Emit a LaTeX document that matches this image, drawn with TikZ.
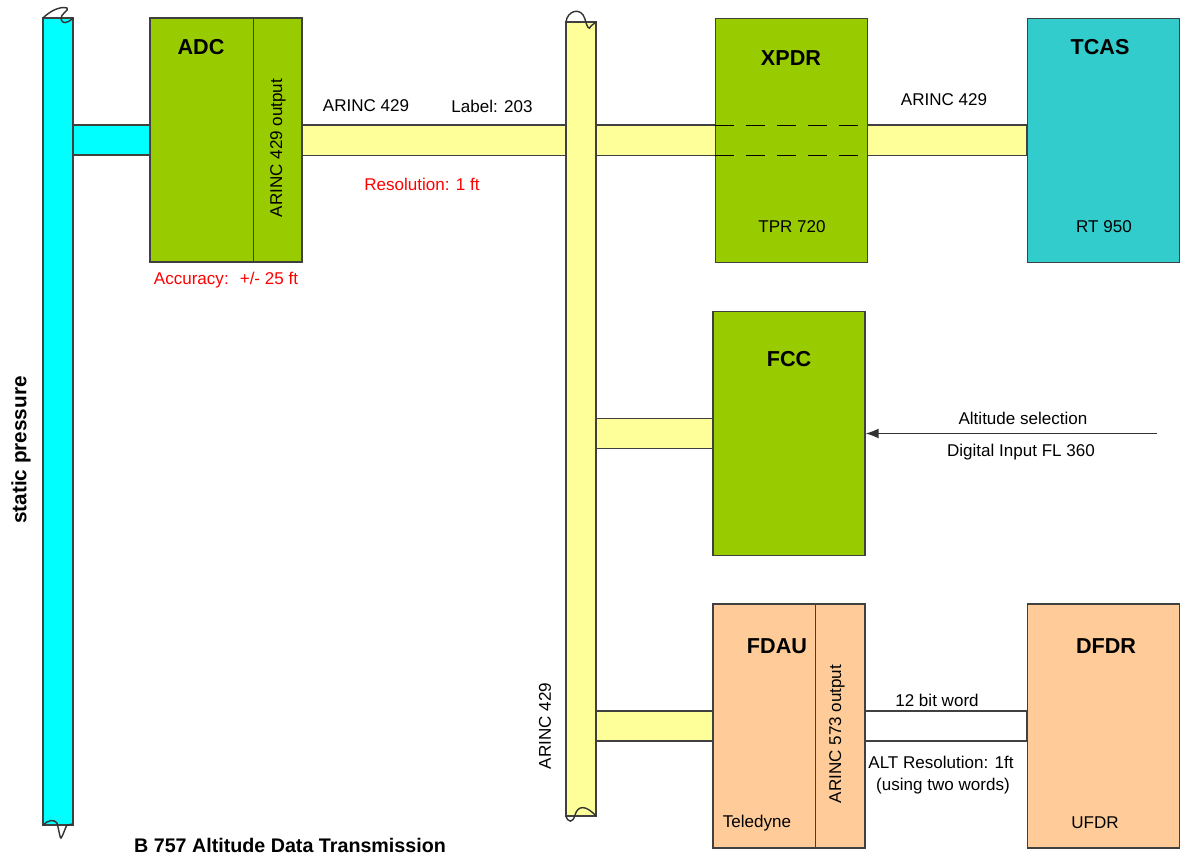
\documentclass[tikz,border=0pt]{standalone}
\usepackage{fontspec}
\setmainfont{Liberation Sans}
\usetikzlibrary{arrows,arrows.meta,calc}
\pgfdeclarelayer{background}
\pgfsetlayers{background,main}
\definecolor{unitgreen}{HTML}{99CC00}
\definecolor{unitteal}{HTML}{33CCCC}
\definecolor{unitorange}{HTML}{FFCC99}
\definecolor{buscyan}{HTML}{00FFFF}
\definecolor{busyellow}{HTML}{FFFF99}
\begin{document}
\begin{tikzpicture}[x=0.02cm, y=-0.02cm,
  edge/.style={draw=black!75, line width=0.7pt},
  unit/.style={edge, minimum width=3.04cm, minimum height=4.88cm, inner sep=0pt},
  bus/.style={edge, minimum width=0.6cm, inner sep=0pt},
  wave/.style={draw=black!80, line width=0.8pt},
  head/.style={font=\bfseries\fontsize{12.3}{14}\selectfont, inner sep=0pt},
  txt/.style={font=\fontsize{9.7}{11}\selectfont, inner sep=0pt},
  note/.style={txt, text=red}]
\useasboundingbox (0,0) rectangle (1187,861);

% buses
\node[bus, fill=buscyan, minimum height=16.14cm] (sbar) at (58,421.5) {};
\node[bus, fill=busyellow, minimum height=15.88cm] (ybar) at (581,419) {};
\draw[wave] (43,18) .. controls (50,11) and (60,6) .. (67,8) .. controls (70,10) and (60,14) .. (61,19) .. controls (62,24) and (67,24) .. (73,18);
\draw[wave] (43,825) .. controls (48,820) and (54,819) .. (57,823) .. controls (59,830) and (60,839) .. (61,838) .. controls (63,836) and (65,828) .. (67,825) -- (73,824);
\draw[wave] (566,22) .. controls (567,11) and (581,6) .. (585,19) .. controls (587,27) and (589,31) .. (591,26) -- (596,22);
\draw[wave] (566,816) .. controls (568,823) and (573,823) .. (575,815) .. controls (578,805) and (586,805) .. (596,816);

% units
\node[unit, fill=unitgreen] (adc) at (226,140) {};
\node[unit, fill=unitgreen] (xpdr) at (791.5,140.5) {};
\node[unit, fill=unitteal] (tcas) at (1103.5,140.5) {};
\node[unit, fill=unitgreen] (fcc) at (789,433.5) {};
\node[unit, fill=unitorange] (fdau) at (789,726) {};
\node[unit, fill=unitorange] (dfdr) at (1103.5,726) {};
\draw[edge] ($(adc.north east)+(-49,0)$) -- ($(adc.south east)+(-49,0)$);
\draw[edge] ($(fdau.north east)+(-50,0)$) -- ($(fdau.south east)+(-50,0)$);

% links
\begin{pgfonlayer}{background}
\filldraw[edge, fill=buscyan] ($(sbar.center |- adc.west)+(0,-15)$) rectangle ($(adc.west)+(0,15)$);
\filldraw[edge, fill=busyellow] ($(adc.east)+(0,-15)$) rectangle ($(tcas.west)+(0,15)$);
\filldraw[edge, fill=busyellow] ($(ybar.center |- fcc.west)+(0,-15)$) rectangle ($(fcc.west)+(0,15)$);
\filldraw[edge, fill=busyellow] ($(ybar.center |- fdau.west)+(0,-15)$) rectangle ($(fdau.west)+(0,15)$);
\filldraw[edge, fill=white] ($(fdau.east)+(0,-15)$) rectangle ($(dfdr.west)+(0,15)$);
\end{pgfonlayer}
\draw[black, line width=0.9pt, dash pattern=on 0.38cm off 0.24cm] ($(xpdr.west)+(0,-15)$) -- ($(xpdr.east)+(0,-15)$);
\draw[black, line width=0.9pt, dash pattern=on 0.38cm off 0.24cm] ($(xpdr.west)+(0,15)$) -- ($(xpdr.east)+(0,15)$);
\coordinate (altin) at (1157,433.5);
\draw[black!80, line width=0.7pt, -{Latex[length=2.6mm,width=2mm]}] (altin) -- (fcc.east);

% texts
\node[head] (adct) at (201,47) {ADC};
\node[txt, rotate=90] (adco) at (278,148) {ARINC 429 output};
\node[note] (adca) at (226,280) {Accuracy:~ +/- 25 ft};
\node[txt] (arinc1) at (366,106) {ARINC 429};
\node[txt] (lbl) at (492,106) {Label: 203};
\node[note] (res) at (422,184) {Resolution: 1 ft};
\node[head] (xpdrt) at (791,58) {XPDR};
\node[txt] (xpdrm) at (792,227) {TPR 720};
\node[txt] (arinc2) at (944,100) {ARINC 429};
\node[head] (tcast) at (1100,47) {TCAS};
\node[txt] (tcasm) at (1104,227) {RT 950};
\node[head] (fcct) at (789,359) {FCC};
\node[txt] (altsel) at (1023,418) {Altitude selection};
\node[txt] (digin) at (1021,452) {Digital Input FL 360};
\node[head] (fdaut) at (777,646) {FDAU};
\node[txt, rotate=90] (fdauo) at (837,734) {ARINC 573 output};
\node[txt] (fdaum) at (757,823) {Teledyne};
\node[txt] (word) at (937,700) {12 bit word};
\node[txt] (altres) at (941,762) {ALT Resolution: 1ft};
\node[txt] (twow) at (943,786) {(using two words)};
\node[head] (dfdrt) at (1106,646) {DFDR};
\node[txt] (dfdrm) at (1095,823) {UFDR};
\node[font=\bfseries\fontsize{11.8}{14}\selectfont, rotate=90, inner sep=0pt] (stat) at (21,450) {static pressure};
\node[txt, rotate=90] (arinc3) at (545,726) {ARINC 429};
\node[font=\bfseries\fontsize{11.2}{13}\selectfont, inner sep=0pt] (title) at (290,845) {B 757 Altitude Data Transmission};
\end{tikzpicture}
\end{document}
